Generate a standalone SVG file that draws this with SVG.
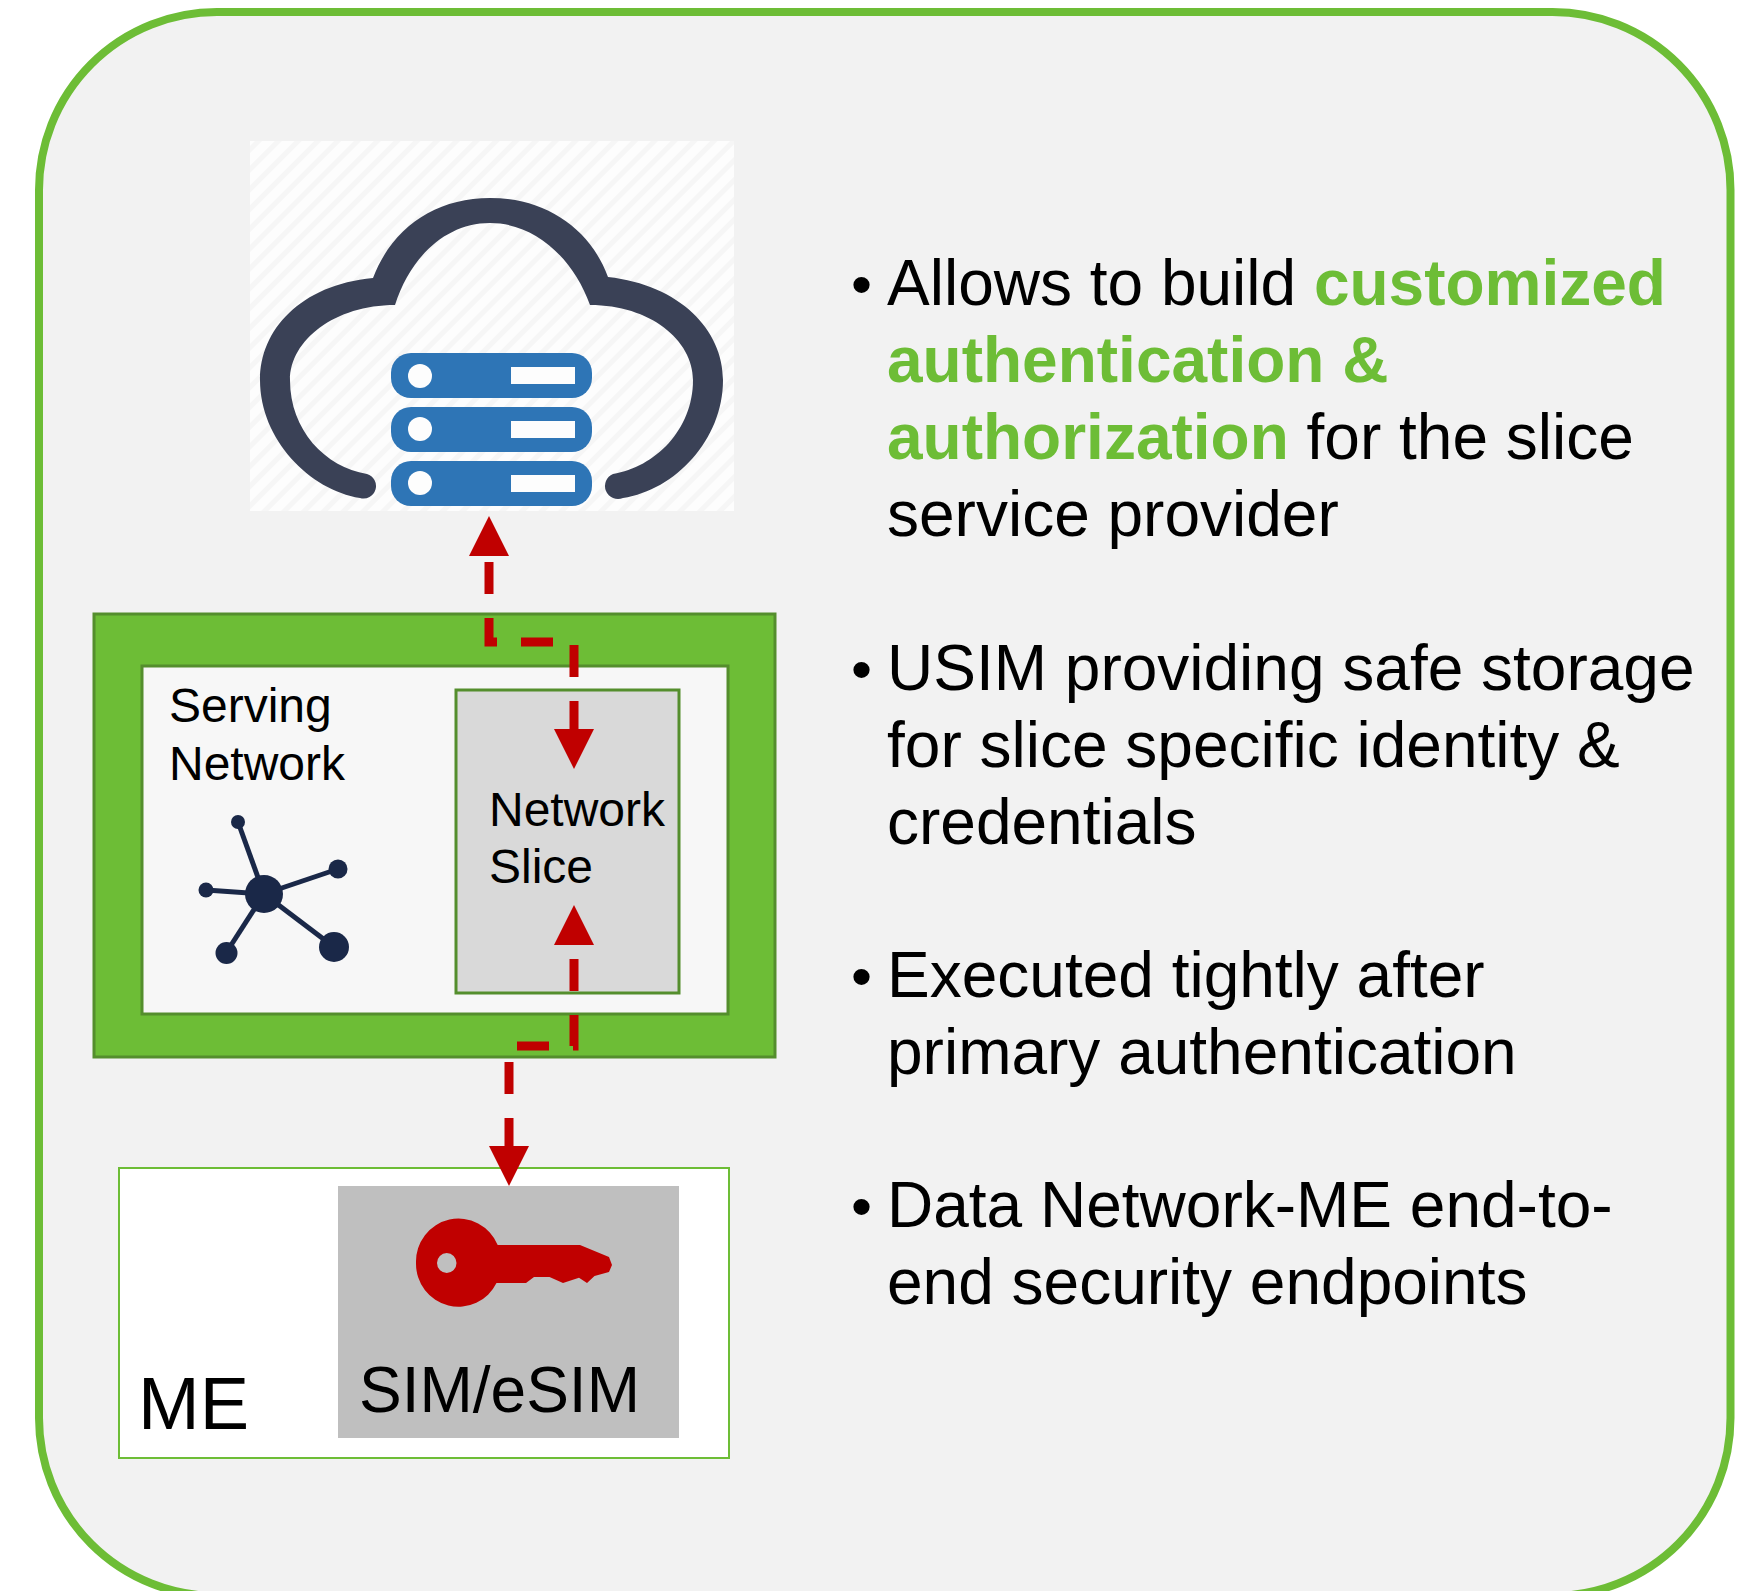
<svg xmlns="http://www.w3.org/2000/svg" width="1741" height="1591" viewBox="0 0 1741 1591">
<style>
text{font-family:"Liberation Sans",Arial,sans-serif;fill:#000}
.sm{font-size:48px}
.bul{font-size:64px}
.dot{font-size:60px}
.hl{fill:#6dbd36;font-weight:bold}
.conn{fill:none;stroke:#c00000;stroke-width:9;stroke-dasharray:32 24;stroke-dashoffset:4}
.srv{fill:#2e75b6}
.hole{fill:#fdfdfd}
.nw{fill:#1a2848}
</style>
<defs>
<pattern id="stripes" width="14" height="14" patternUnits="userSpaceOnUse" patternTransform="rotate(-45)">
<rect width="14" height="14" fill="#fdfdfd"/><rect width="14" height="5" fill="#f6f6f6"/>
</pattern>
<marker id="arrow" markerUnits="userSpaceOnUse" markerWidth="40" markerHeight="40" viewBox="0 0 40 40" refX="0" refY="20" orient="auto-start-reverse">
<path d="M0 0L40 20L0 40Z" fill="#c00000"/>
</marker>
</defs>
<rect width="1741" height="1591" fill="#fff"/>
<rect id="panel" x="39" y="12" width="1691.500" height="1584" rx="178" fill="#f2f2f2" stroke="#6dbd36" stroke-width="8"/>
<g id="cloud">
<rect x="250" y="141" width="484" height="370" fill="url(#stripes)"/>
<path fill="#3a4156" d="M360 498C310 490 260 440 260 380C260 330 300 285 373 278C392 228 435 198 490 198C545 198 590 228 608 277C680 285 723 330 723 380C723 440 675 490 623 498A12.500 12.500 0 0 1 613 474C655 467 693 430 693 380C693 340 650 305 590 305C573 258 535 223 490 223C445 223 410 258 395 305C335 305 290 340 290 380C290 430 325 467 367 474A12.500 12.500 0 0 1 360 498Z"/>
<rect class="srv" x="391" y="353" width="201" height="45" rx="20"/>
<rect class="srv" x="391" y="407" width="201" height="45" rx="20"/>
<rect class="srv" x="391" y="461" width="201" height="45" rx="20"/>
<circle class="hole" cx="420" cy="376" r="12"/>
<circle class="hole" cx="420" cy="429" r="12"/>
<circle class="hole" cx="420" cy="483" r="12"/>
<rect class="hole" x="511" y="367" width="64" height="17"/>
<rect class="hole" x="511" y="421" width="64" height="17"/>
<rect class="hole" x="511" y="475" width="64" height="17"/>
</g>
<g id="serving-network">
<rect x="94" y="614" width="681" height="443" fill="#6dbd36" stroke="#548e2d" stroke-width="3"/>
<rect x="142" y="666" width="586" height="348" fill="#f7f7f7" stroke="#548e2d" stroke-width="3"/>
<text class="sm" x="169" y="722">Serving</text>
<text class="sm" x="169" y="780">Network</text>
<g stroke="#1a2848" stroke-width="5">
<line x1="264" y1="894" x2="238" y2="822"/><line x1="264" y1="894" x2="338" y2="869"/><line x1="264" y1="894" x2="206" y2="890"/><line x1="264" y1="894" x2="226" y2="953"/><line x1="264" y1="894" x2="334" y2="947"/>
</g>
<circle class="nw" cx="264" cy="894" r="19"/>
<circle class="nw" cx="238" cy="822" r="7"/>
<circle class="nw" cx="338" cy="869" r="9.500"/>
<circle class="nw" cx="206" cy="890" r="7.500"/>
<circle class="nw" cx="226.500" cy="953" r="11"/>
<circle class="nw" cx="334" cy="947" r="15"/>
</g>
<g id="network-slice">
<rect x="456" y="690" width="223" height="303" fill="#d9d9d9" stroke="#548e2d" stroke-width="3"/>
<text class="sm" x="489" y="826">Network</text>
<text class="sm" x="489" y="883">Slice</text>
</g>
<g id="me">
<rect x="119" y="1168" width="610" height="290" fill="#fff" stroke="#6dbd36" stroke-width="2"/>
<text x="138" y="1429" font-size="74">ME</text>
</g>
<g id="sim">
<rect x="338" y="1186" width="341" height="252" fill="#bfbfbf"/>
<path fill-rule="evenodd" fill="#c00000" d="M416 1263A42.500 43 0 0 1 497.700 1245H580L609 1257L612 1265L609 1272L594.500 1276L587 1283L579 1277.700L563 1283L549.500 1277H534L526 1283H496.500A42.500 43 0 0 1 416 1263ZM437 1263A9.700 10 0 0 0 456.500 1263A9.700 10 0 0 0 437 1263Z"/>
<text x="359" y="1412" font-size="64">SIM/eSIM</text>
</g>
<g id="connectors">
<path class="conn" d="M574 729V642H489V556" marker-start="url(#arrow)" marker-end="url(#arrow)"/>
<path class="conn" d="M509 1146V1046H574V945" marker-start="url(#arrow)" marker-end="url(#arrow)"/>
</g>
<g id="bullets">
<text class="dot" x="851" y="305">•</text>
<text class="bul" x="887" y="305">Allows to build <tspan class="hl">customized</tspan></text>
<text class="bul hl" x="887" y="382">authentication &amp;</text>
<text class="bul" x="887" y="459"><tspan class="hl">authorization</tspan> for the slice</text>
<text class="bul" x="887" y="536">service provider</text>
<text class="dot" x="851" y="690">•</text>
<text class="bul" x="887" y="690">USIM providing safe storage</text>
<text class="bul" x="887" y="767">for slice specific identity &amp;</text>
<text class="bul" x="887" y="844">credentials</text>
<text class="dot" x="851" y="997">•</text>
<text class="bul" x="887" y="997">Executed tightly after</text>
<text class="bul" x="887" y="1074">primary authentication</text>
<text class="dot" x="851" y="1227">•</text>
<text class="bul" x="887" y="1227">Data Network-ME end-to-</text>
<text class="bul" x="887" y="1304">end security endpoints</text>
</g>
</svg>
